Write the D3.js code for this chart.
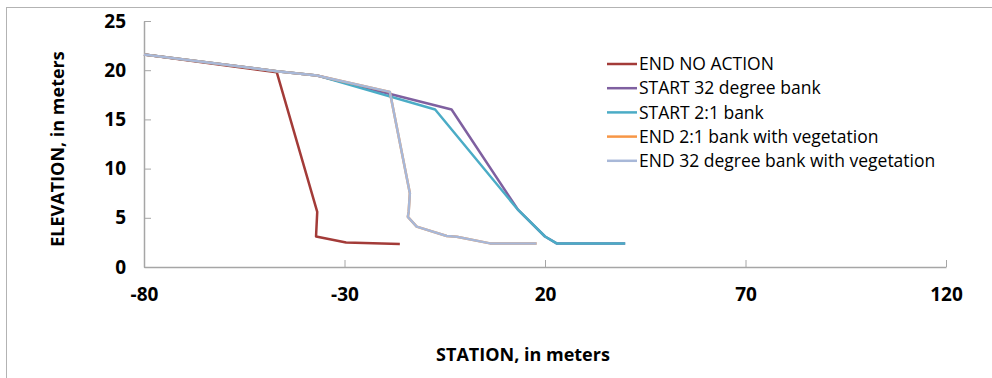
<!DOCTYPE html>
<html>
<head>
<meta charset="utf-8">
<script src="https://cdn.jsdelivr.net/npm/d3@7"></script>
<style>
  body { margin: 0; background: #fff; }
  text { font-family: "Open Sans", "Liberation Sans", sans-serif; }
</style>
</head>
<body>
<div id="chart"></div>
<script>
// series data: [station, elevation]
const endNoAction = [[-80, 21.6], [-46.9, 19.8], [-36.8, 5.6], [-37.1, 3.1], [-29.6, 2.5], [-16.2, 2.35]];
const start32 = [[-80, 21.6], [-46.9, 19.9], [-36.9, 19.47], [-3.3, 16.0], [13.3, 5.8], [20, 3.1], [22.9, 2.4], [40, 2.4]];
const start21 = [[-80, 21.6], [-46.9, 19.9], [-36.9, 19.47], [-7.4, 16.0], [13.3, 5.8], [20, 3.1], [22.9, 2.4], [40, 2.4]];
const end21Veg = [[-80, 21.6], [-46.9, 19.9], [-36.9, 19.47], [-18.7, 17.8], [-13.7, 7.5], [-14.0, 5.6], [-14.2, 5.1], [-12, 4.1],
  [-4.5, 3.15], [-2.0, 3.07], [6.3, 2.4], [17.9, 2.4]];
const end32Veg = end21Veg.slice();

const seriesNames = ["END NO ACTION", "START 32 degree bank", "START 2:1 bank",
  "END 2:1 bank with vegetation", "END 32 degree bank with vegetation"];
const seriesData = [endNoAction, start32, start21, end21Veg, end32Veg];
const seriesColors = ["#A33B38", "#7F60A0", "#4BACC6", "#F79646", "#A8B8D8"];

const xTicks = [-80, -30, 20, 70, 120];
const yTicks = [0, 5, 10, 15, 20, 25];

const width = 992, height = 378;
const margin = { left: 144, right: 46, top: 21, bottom: 111 };

const svg = d3.select("#chart").append("svg")
  .attr("width", width)
  .attr("height", height);

// outer chart border (runs off right and bottom edge)
svg.append("rect")
  .attr("x", 6.5).attr("y", 7.5)
  .attr("width", 1000).attr("height", 400)
  .attr("fill", "none")
  .attr("stroke", "#b3b3b3");

const x = d3.scaleLinear().domain([-80, 120]).range([margin.left, width - margin.right]);
const y = d3.scaleLinear().domain([0, 25]).range([height - margin.bottom, margin.top]);

const axisColor = "#a6a6a6";

// x axis, ticks pointing inward
const xAxis = svg.append("g")
  .attr("transform", `translate(0,${y(0)})`)
  .call(d3.axisBottom(x).tickValues(xTicks).tickFormat(d => String(d))
    .tickSizeInner(-7).tickSizeOuter(0).tickPadding(21));
xAxis.select(".domain").attr("stroke", axisColor).attr("stroke-width", 1.5);
xAxis.selectAll(".tick line").attr("stroke", axisColor);
xAxis.selectAll(".tick text")
  .attr("fill", "#000").attr("font-size", 19).attr("font-weight", "bold")
  .attr("dy", "0.71em");

// y axis
const yAxis = svg.append("g")
  .attr("transform", `translate(${x(-80)},0)`)
  .call(d3.axisLeft(y).tickValues(yTicks).tickFormat(d => String(d))
    .tickSizeInner(-7).tickSizeOuter(0).tickPadding(18));
yAxis.select(".domain").attr("stroke", axisColor).attr("stroke-width", 1.5);
yAxis.selectAll(".tick line").attr("stroke", axisColor);
yAxis.selectAll(".tick text")
  .attr("fill", "#000").attr("font-size", 19).attr("font-weight", "bold");

// axis titles
svg.append("text")
  .attr("x", 523).attr("y", 361)
  .attr("text-anchor", "middle")
  .attr("font-size", 18).attr("font-weight", "bold")
  .text("STATION, in meters");

svg.append("text")
  .attr("transform", "translate(64,149) rotate(-90)")
  .attr("text-anchor", "middle")
  .attr("font-size", 18).attr("font-weight", "bold")
  .text("ELEVATION, in meters");

// lines
const line = d3.line().x(d => x(d[0])).y(d => y(d[1]));

svg.append("g")
  .selectAll("path")
  .data(seriesData)
  .join("path")
  .attr("d", line)
  .attr("fill", "none")
  .attr("stroke", (d, i) => seriesColors[i])
  .attr("stroke-width", 2.5)
  .attr("stroke-linejoin", "round");

// legend
const legend = svg.append("g")
  .selectAll("g")
  .data(seriesNames)
  .join("g")
  .attr("transform", (d, i) => `translate(607,${64 + i * 24.2})`);

legend.append("line")
  .attr("x1", 0).attr("x2", 30)
  .attr("stroke", (d, i) => seriesColors[i])
  .attr("stroke-width", 2.5);

legend.append("text")
  .attr("x", 32).attr("dy", "0.35em")
  .attr("font-size", 17.5)
  .text(d => d);
</script>
</body>
</html>
